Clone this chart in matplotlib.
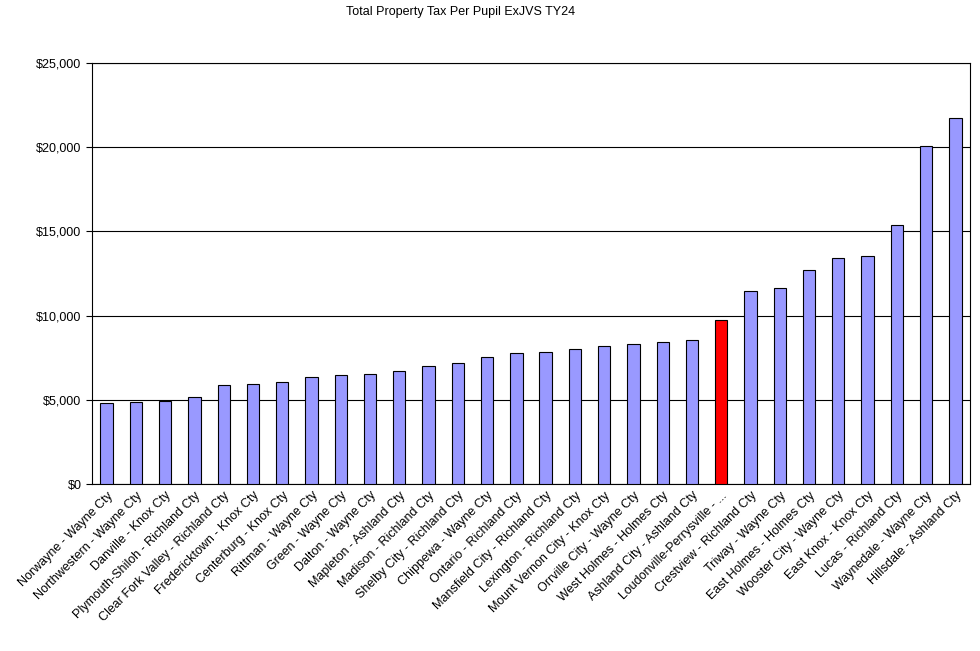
import matplotlib.pyplot as plt
import numpy as np

plt.rcParams['font.family'] = ['Liberation Sans', 'DejaVu Sans']

districts = ["Norwayne - Wayne Cty", "Northwestern - Wayne Cty", "Danville - Knox Cty",
             "Plymouth-Shiloh - Richland Cty", "Clear Fork Valley - Richland Cty",
             "Fredericktown - Knox Cty", "Centerburg - Knox Cty", "Rittman - Wayne Cty",
             "Green - Wayne Cty", "Dalton - Wayne Cty", "Mapleton - Ashland Cty",
             "Madison - Richland Cty", "Shelby City - Richland Cty", "Chippewa - Wayne Cty",
             "Ontario - Richland Cty", "Mansfield City - Richland Cty",
             "Lexington - Richland Cty", "Mount Vernon City - Knox Cty",
             "Orrville City - Wayne Cty", "West Holmes - Holmes Cty",
             "Ashland City - Ashland Cty", "Loudonville-Perrysville - ...",
             "Crestview - Richland Cty", "Triway - Wayne Cty", "East Holmes - Holmes Cty",
             "Wooster City - Wayne Cty", "East Knox - Knox Cty", "Lucas - Richland Cty",
             "Waynedale - Wayne Cty", "Hillsdale - Ashland Cty"]
tax_per_pupil = [4800, 4870, 4950, 5170, 5880, 5940, 6060, 6350, 6470, 6530,
                 6710, 7010, 7190, 7540, 7780, 7840, 8020, 8190, 8310, 8430,
                 8550, 9740, 11460, 11640, 12710, 13420, 13540, 15380, 20070, 21730]
highlight = "Loudonville-Perrysville - ..."

fig = plt.figure(figsize=(9.8, 6.51), dpi=100)
ax = fig.add_axes([92/980, 1-484/651, 878/980, 421/651])

x = np.arange(len(districts))
colors = ["#FF0000" if d == highlight else "#9999FF" for d in districts]
ax.bar(x, tax_per_pupil, 0.42, color=colors, edgecolor="black", linewidth=0.8, zorder=3)

ax.set_xlim(-0.5, len(districts) - 0.5)
ax.set_ylim(0, 25000)
ax.set_yticks(range(0, 25001, 5000))
ax.set_yticklabels([f"${v:,}" for v in range(0, 25001, 5000)], fontsize=9)
ax.yaxis.grid(True, color="black", linewidth=0.8, zorder=0)
ax.set_xticks(x)
ax.set_xticklabels(districts, rotation=45, ha="right", rotation_mode="anchor", fontsize=9)
ax.tick_params(axis="x", length=0, pad=4)
ax.tick_params(axis="y", length=4, direction="out")

fig.text(0.47, 1-12/651, "Total Property Tax Per Pupil ExJVS TY24", ha="center", va="center", fontsize=9)

fig.savefig("out.png", dpi=100)
